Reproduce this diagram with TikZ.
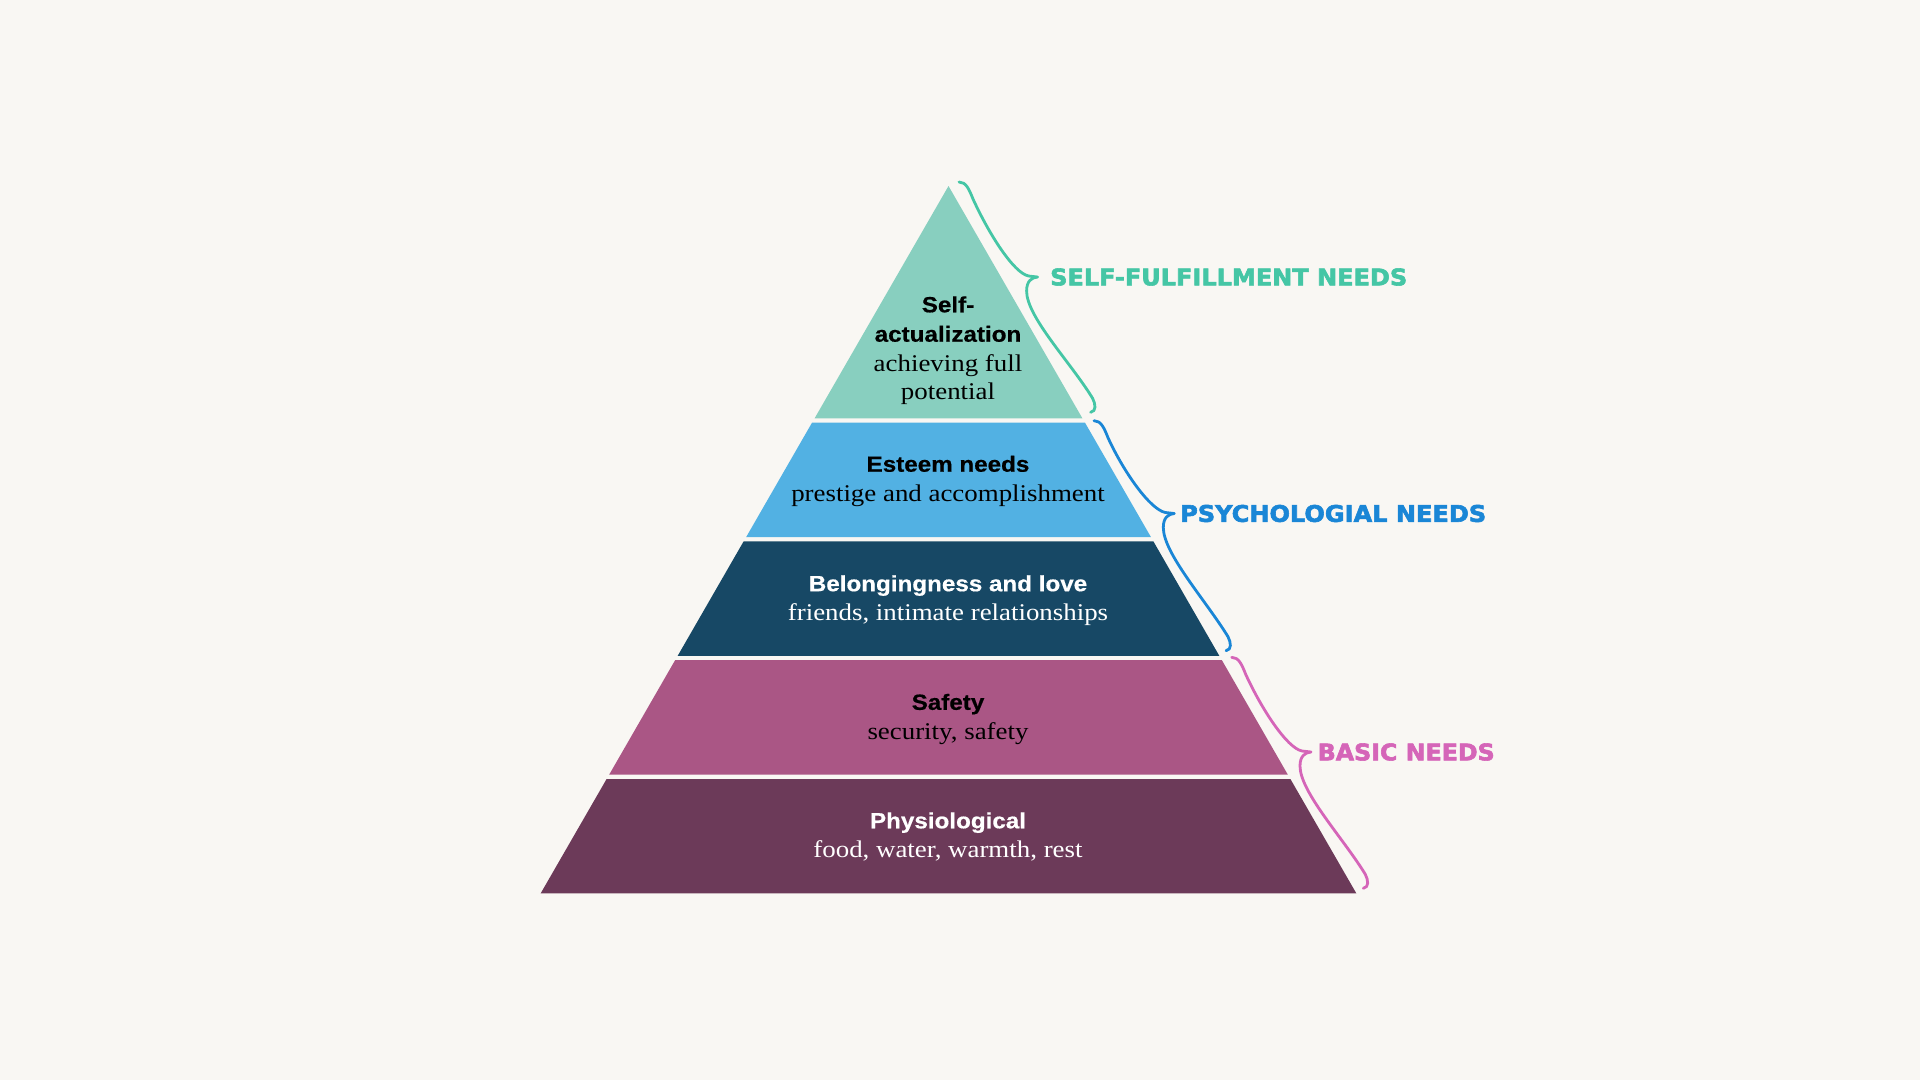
\documentclass[tikz,border=0pt]{standalone}
\usepackage{fontspec}
\usetikzlibrary{calc}
\setmainfont{Liberation Serif}
\newfontfamily\tiertitle{Liberation Sans}[FakeStretch=1.1, BoldFeatures={FakeBold=0.6}]
\newfontfamily\tiersub{Liberation Serif}[FakeStretch=1.12]
\newfontfamily\grouplabel{DejaVu Sans}[BoldFeatures={FakeBold=2.5}]

\definecolor{paper}{HTML}{F9F7F3}
\definecolor{tierA}{HTML}{88CFBF}
\definecolor{tierB}{HTML}{52B1E3}
\definecolor{tierC}{HTML}{174865}
\definecolor{tierD}{HTML}{AA5685}
\definecolor{tierE}{HTML}{6C3A59}
\definecolor{grpTeal}{HTML}{45C6A5}
\definecolor{grpBlue}{HTML}{1A86D6}
\definecolor{grpPink}{HTML}{D565B8}

\tikzset{
  band/.style={fill=#1, draw=none},
  ttl/.style={font=\tiertitle\bfseries\fontsize{22}{26}\selectfont, anchor=base, inner sep=0pt},
  sub/.style={font=\tiersub\fontsize{24}{28}\selectfont, anchor=base, inner sep=0pt},
  grp/.style={anchor=west, inner sep=0pt, text=#1},
  needbrace/.style={draw=#1, line width=2.8pt, line cap=round, line join=round},
}

% curly brace running down beside the slope: top end, cusp, bottom end
\newcommand\needsbrace[4]{%
  \draw[needbrace=#1] (#2)
    .. controls ($(#2)+(7,0)$) and ($(#2)+(10,7)$) .. ($(#2)+(14,17)$)
    .. controls ($(#2)+(30,52)$) and ($(#3)+(-24,-4)$) .. ($(#3)+(-9,-1)$)
    .. controls ($(#3)+(-5,-0.3)$) .. (#3)
    .. controls ($(#3)+(-6,0.5)$) and ($(#3)+(-11,4)$) .. ($(#3)+(-11,14)$)
    .. controls ($(#3)+(-11,40)$) and ($(#4)+(-20,-50)$) .. ($(#4)+(2,-14)$)
    .. controls ($(#4)+(5,-8)$) and ($(#4)+(6,-1)$) .. (#4);}

\newcommand\grptext[3]{\resizebox{#1pt}{#2pt}{\grouplabel\bfseries #3}}

\begin{document}
\begin{tikzpicture}[x=1pt, y=-1pt]
  \useasboundingbox (0,0) rectangle (1920,1080);
  \fill[paper] (0,0) rectangle (1920,1080);

  % pyramid bands, top to bottom
  \fill[band=tierA] (948.5,186) -- (1082.4,418.3) -- (814.6,418.3) -- cycle;
  \fill[band=tierB] (812.0,422.7) -- (1085.0,422.7) -- (1150.9,537) -- (746.2,537) -- cycle;
  \fill[band=tierC] (743.6,541.4) -- (1153.4,541.4) -- (1219.3,655.8) -- (677.7,655.8) -- cycle;
  \fill[band=tierD] (675.1,660.2) -- (1221.9,660.2) -- (1287.8,774.6) -- (609.2,774.6) -- cycle;
  \fill[band=tierE] (606.6,779) -- (1290.4,779) -- (1356.3,893.3) -- (540.7,893.3) -- cycle;

  % tier texts
  \node[ttl] (selfA) at (948,312.3) {Self-};
  \node[ttl] (selfB) at (948,341.7) {actualization};
  \node[sub] (selfC) at (948,371.2) {achieving full};
  \node[sub] (selfD) at (948,399.5) {potential};

  \node[ttl] (estA) at (948,471.7) {Esteem needs};
  \node[sub] (estB) at (948,501) {prestige and accomplishment};

  \node[ttl, text=white] (belA) at (948,591.2) {Belongingness and love};
  \node[sub, text=white] (belB) at (948,620) {friends, intimate relationships};

  \node[ttl] (safA) at (948,709.8) {Safety};
  \node[sub] (safB) at (948,739) {security, safety};

  \node[ttl, text=white] (phyA) at (948,828.3) {Physiological};
  \node[sub, text=white] (phyB) at (948,857.3) {food, water, warmth, rest};

  % group labels
  \node[grp=grpTeal] (gSelf) at (1050,277) {\grptext{357}{17}{SELF-FULFILLMENT NEEDS}};
  \node[grp=grpBlue] (gPsy) at (1180,513.5) {\grptext{306}{17}{PSYCHOLOGIAL NEEDS}};
  \node[grp=grpPink] (gBasic) at (1317.5,752) {\grptext{177}{17}{BASIC NEEDS}};

  % brace ends and cusps
  \coordinate (tTop) at (959,182);
  \coordinate (tBot) at (1090.6,412.3);
  \coordinate (tTip) at ($(gSelf.west)+(-12.4,0)$);
  \coordinate (bTop) at (1094,420.7);
  \coordinate (bBot) at (1226,650.7);
  \coordinate (bTip) at ($(gPsy.west)+(-5.7,0)$);
  \coordinate (pTop) at (1231.7,657.3);
  \coordinate (pBot) at (1363.3,888.3);
  \coordinate (pTip) at ($(gBasic.west)+(-6.5,0)$);

  \needsbrace{grpTeal}{tTop}{tTip}{tBot}
  \needsbrace{grpBlue}{bTop}{bTip}{bBot}
  \needsbrace{grpPink}{pTop}{pTip}{pBot}
\end{tikzpicture}
\end{document}
